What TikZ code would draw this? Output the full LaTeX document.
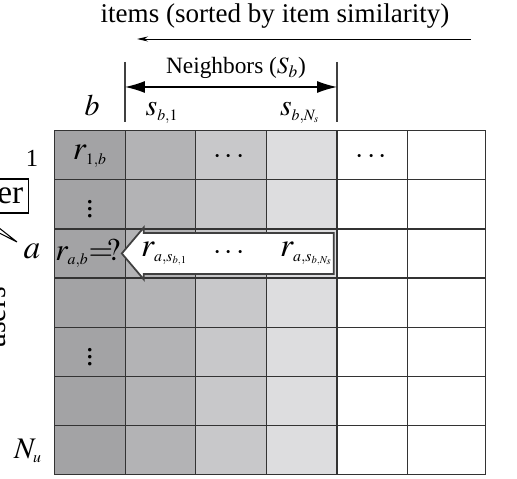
\documentclass[tikz,border=0pt]{standalone}
\usepackage{mathptmx}
\usepackage[no-math]{fontspec}
\setmainfont{Liberation Serif}
\usetikzlibrary{arrows.meta, calc}

\DeclareMathSizes{19}{19}{9}{6}
\DeclareMathSizes{18}{18}{9}{6}
\DeclareMathSizes{17}{17}{9}{6}
\DeclareMathSizes{14}{14}{8}{6}

\definecolor{shadeA}{RGB}{163,163,165}
\definecolor{shadeB}{RGB}{179,179,181}
\definecolor{shadeC}{RGB}{200,200,202}
\definecolor{shadeD}{RGB}{221,221,223}

\begin{document}
\begin{tikzpicture}[
    x=0.02cm, y=-0.02cm,
    every node/.style={inner sep=0pt},
    cell/.style={draw=black!80, line width=0.7pt, anchor=north west, minimum height=0.983cm},
    huge/.style={font=\fontsize{19}{22}\selectfont},
    big/.style={font=\fontsize{17}{20}\selectfont},
    mid/.style={font=\fontsize{14}{17}\selectfont},
    bar/.style={line width=0.6pt, draw=black!75},
    dimarrow/.style={{Latex[length=0.4cm,width=0.24cm]}-{Latex[length=0.4cm,width=0.24cm]}, line width=0.7pt},
    sortarrow/.style={-{Stealth[length=0.22cm,width=0.1cm]}, line width=0.5pt},
    bigarrow/.style={draw=black!75, line width=1pt, fill=white}
]
\useasboundingbox (0,0) rectangle (517,479);

% grid of ratings
\foreach \r in {1,...,7}{
  \foreach \c/\shade in {1/shadeA,2/shadeB,3/shadeC,4/shadeD,5/white,6/white}{
    \pgfmathsetmacro\cw{\c==6 ? 1.56 : 1.412}
    \node[cell, fill=\shade, minimum width=\cw cm] (c-\r-\c)
        at ({54+(\c-1)*70.6},{130+(\r-1)*49.14}) {};
  }
}

% title and sort direction
\node[anchor=base, font=\fontsize{15.4}{18}\selectfont] (items) at (275,23) {items (sorted by item similarity)};
\coordinate (sortR) at (471,39);
\coordinate (sortL) at (137,39);
\draw[sortarrow] (sortR) -- (sortL);

% neighbourhood of b
\coordinate (barLtop) at (125,62);
\coordinate (barLbot) at (125,122);
\coordinate (barRtop) at (337,62);
\coordinate (barRbot) at (337,122);
\draw[bar] (barLtop) -- (barLbot);
\draw[bar] (barRtop) -- (barRbot);
\coordinate (dimL) at (125,87);
\coordinate (dimR) at (337,87);
\draw[dimarrow] (dimL) -- (dimR);
\node[anchor=base, font=\fontsize{13.3}{16}\selectfont] (nbrs) at (236,74) {Neighbors ($S_b$)};

\node[big, anchor=base] (colb) at (92,116) {$b$};
\node[big, anchor=base] (colsA) at (162,116) {$s_{b,1}$};
\node[big, anchor=base] (colsN) at (300,116) {$s_{b,N_s}$};

% users
\node[mid, anchor=base] (rowA) at (32,167) {1};
\node[huge, anchor=base] (rowa) at (32,259) {$a$};
\node[big, anchor=base] (rowN) at (28,458) {$N_u$};
\coordinate (ptr) at (17,242);
\coordinate (wedgeA) at (-20,213);
\coordinate (wedgeB) at (-40,213);
\draw[fill=white, line width=0.6pt] (wedgeA) -- (ptr) -- (wedgeB);
\node[draw, huge, anchor=east, minimum height=0.68cm, inner xsep=3pt, fill=white,
      line width=0.6pt] (user) at (29,196) {user};
\node[big, rotate=90, anchor=south] (users) at (6,318) {users};

% cell contents
\node[huge] (r1b) at ($(c-1-1)+(0,1)$) {$r_{1,b}$};
\node[big] (dotsA) at ($(c-1-3)+(-2,2)$) {$\cdots$};
\node[big] (dotsB) at ($(c-1-5)+(-1,2)$) {$\cdots$};
\node[big] (vdA) at (c-2-1) {$\vdots$};
\node[anchor=west, font=\fontsize{18}{21}\selectfont] (rab) at ($(c-3-1.west)+(1,0)$) {$r_{a,b}\mkern-4mu=\mkern-4mu?$};
\node[big] (vdB) at (c-5-1) {$\vdots$};

% known ratings of a on the neighbours
\draw[bigarrow] ($(c-3-1.east)+(-4,0)$) -- ++(22,-26) -- ++(0,5.5) -- ++(190,0)
    -- ++(0,41) -- ++(-190,0) -- ++(0,5.5) -- cycle;
\node[huge] (raA) at ($(c-3-2)+(4,0)$) {$r_{a,s_{b,1}}$};
\node[big] (dotsC) at ($(c-3-3)+(-2,0)$) {$\cdots$};
\node[huge] (raN) at ($(c-3-4)+(5,0)$) {$r_{a,s_{b,N_s}}$};
\end{tikzpicture}
\end{document}
